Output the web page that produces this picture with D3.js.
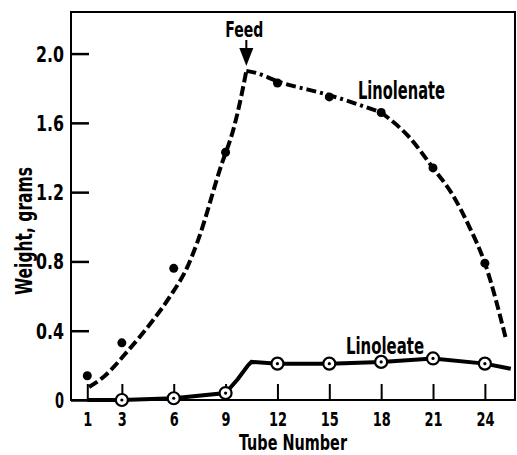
<!DOCTYPE html>
<html>
<head>
<meta charset="utf-8">
<script src="https://cdn.jsdelivr.net/npm/d3@7"></script>
<style>
  body { margin: 0; background: #fff; }
  text { font-family: "DejaVu Sans Condensed", "DejaVu Sans", sans-serif; font-weight: bold; fill: #000; }
</style>
</head>
<body>
<div class="main"></div>
<script>
var width = 517;
var height = 455;

// measured points
var pointTubes = [1, 3, 6, 9, 12, 15, 18, 21, 24];
var linolenateValues = [0.14, 0.33, 0.76, 1.43, 1.83, 1.75, 1.66, 1.34, 0.79];
var circleTubes = [3, 6, 9, 12, 15, 18, 21, 24];
var linoleateValues = [0, 0.01, 0.04, 0.21, 0.21, 0.22, 0.24, 0.21];

// drawn curves
var riseTubes = [1.1, 1.9, 3.4, 4.8, 5.8, 6.8, 7.4, 8.7, 9.5, 9.9, 10.2];
var riseValues = [0.075, 0.13, 0.29, 0.46, 0.60, 0.77, 0.92, 1.34, 1.58, 1.75, 1.90];
var topTubes = [10.2, 10.7, 12, 15, 18];
var topValues = [1.90, 1.89, 1.84, 1.76, 1.66];
var fallTubes = [18, 19.6, 21, 22.1, 23.1, 24, 25.2];
var fallValues = [1.66, 1.52, 1.34, 1.19, 1.0, 0.79, 0.36];
var lineTubes = [1, 3, 6, 9, 9.7, 10.3, 10.5, 12, 15, 18, 21, 24, 25.5];
var lineValues = [0, 0, 0.01, 0.04, 0.12, 0.20, 0.22, 0.21, 0.21, 0.22, 0.24, 0.21, 0.18];

var xTicks = [1, 3, 6, 9, 12, 15, 18, 21, 24];
var yTicks = [0, 0.4, 0.8, 1.2, 1.6, 2.0];
var yTickLabels = ["0", "0.4", "0.8", "1.2", "1.6", "2.0"];

// the original uses a narrow gothic face, so squeeze each text to its width
function labelWidth(s) {
    s = String(s);
    var dots = s.split(".").length - 1;
    return 9 * (s.length - dots) + 10 * dots;
}

var svg = d3.select(".main")
    .append("svg")
        .attr("width", width)
        .attr("height", height);

var xScale = d3.scaleLinear()
    .domain([0, 25.8])
    .range([70, 516]);

var yScale = d3.scaleLinear()
    .domain([0, 2.24])
    .range([400, 12]);

// frame
svg.append("rect")
    .attr("x", 71).attr("y", 12)
    .attr("width", 444).attr("height", 388)
    .attr("fill", "none")
    .attr("stroke", "#000")
    .attr("stroke-width", 2);

var xAxis = d3.axisBottom(xScale)
    .tickValues(xTicks)
    .tickSize(-16)
    .tickSizeOuter(0);

var yAxis = d3.axisLeft(yScale)
    .tickValues(yTicks)
    .tickFormat((d, i) => yTickLabels[i])
    .tickSize(-18)
    .tickSizeOuter(0);

var xAxisGroup = svg.append("g")
    .attr("transform", "translate(0, 400)")
    .call(xAxis);
xAxisGroup.select(".domain").remove();
xAxisGroup.selectAll("line").attr("stroke-width", 2);
xAxisGroup.selectAll("text")
    .attr("dy", null)
    .attr("y", 26)
    .attr("textLength", d => labelWidth(d))
    .attr("lengthAdjust", "spacingAndGlyphs")
    .style("font-size", "20px");

var yAxisGroup = svg.append("g")
    .attr("transform", "translate(71, 0)")
    .call(yAxis);
yAxisGroup.select(".domain").remove();
yAxisGroup.selectAll("line").attr("stroke-width", 2.5);
yAxisGroup.selectAll("text")
    .attr("x", -7)
    .attr("dy", "0.36em")
    .attr("textLength", (d, i) => labelWidth(yTickLabels[i]))
    .attr("lengthAdjust", "spacingAndGlyphs")
    .style("font-size", "21px");

// linoleate solid line
var line = d3.line()
    .x((d, i) => xScale(lineTubes[i]))
    .y(d => yScale(d));

svg.append("path")
    .datum(lineValues)
    .attr("d", line)
    .attr("fill", "none")
    .attr("stroke", "#000")
    .attr("stroke-width", 4);

// linolenate dashed curve
function curvePath(tubes, values, curve) {
    return d3.line()
        .x((d, i) => xScale(tubes[i]))
        .y(d => yScale(d))
        .curve(curve)(values);
}

svg.append("path")
    .attr("d", curvePath(riseTubes, riseValues, d3.curveMonotoneX))
    .attr("fill", "none")
    .attr("stroke", "#000")
    .attr("stroke-width", 4)
    .attr("stroke-dasharray", "10,4");

svg.append("path")
    .attr("d", curvePath(topTubes, topValues, d3.curveMonotoneX))
    .attr("fill", "none")
    .attr("stroke", "#000")
    .attr("stroke-width", 4)
    .attr("stroke-dasharray", "10,4,3,4");

svg.append("path")
    .attr("d", curvePath(fallTubes, fallValues, d3.curveMonotoneX))
    .attr("fill", "none")
    .attr("stroke", "#000")
    .attr("stroke-width", 4)
    .attr("stroke-dasharray", "10,4");

// filled dots
svg.selectAll(".dot")
    .data(linolenateValues)
    .enter()
    .append("circle")
    .attr("class", "dot")
    .attr("cx", (d, i) => xScale(pointTubes[i]))
    .attr("cy", d => yScale(d))
    .attr("r", 4.5)
    .attr("fill", "#000");

// open circles with centre dot
svg.selectAll(".ring")
    .data(linoleateValues)
    .enter()
    .append("circle")
    .attr("class", "ring")
    .attr("cx", (d, i) => xScale(circleTubes[i]))
    .attr("cy", d => yScale(d))
    .attr("r", 6)
    .attr("fill", "#fff")
    .attr("stroke", "#000")
    .attr("stroke-width", 2.2);

svg.selectAll(".ringdot")
    .data(linoleateValues)
    .enter()
    .append("circle")
    .attr("class", "ringdot")
    .attr("cx", (d, i) => xScale(circleTubes[i]))
    .attr("cy", d => yScale(d))
    .attr("r", 1.6)
    .attr("fill", "#000");

// feed arrow
var feedX = xScale(10.2);
svg.append("line")
    .attr("x1", feedX).attr("x2", feedX)
    .attr("y1", 40).attr("y2", 52)
    .attr("stroke", "#000")
    .attr("stroke-width", 2);
svg.append("path")
    .attr("d", d3.line()([[feedX - 7, 48], [feedX + 7, 48], [feedX, 66]]) + "Z")
    .attr("fill", "#000");

svg.append("text")
    .attr("x", feedX - 2).attr("y", 37)
    .attr("text-anchor", "middle")
    .attr("textLength", 38)
    .attr("lengthAdjust", "spacingAndGlyphs")
    .style("font-size", "21px")
    .text("Feed");

svg.append("text")
    .attr("x", 358).attr("y", 99)
    .attr("textLength", 87)
    .attr("lengthAdjust", "spacingAndGlyphs")
    .style("font-size", "24px")
    .text("Linolenate");

svg.append("text")
    .attr("x", 346).attr("y", 354)
    .attr("textLength", 78)
    .attr("lengthAdjust", "spacingAndGlyphs")
    .style("font-size", "23px")
    .text("Linoleate");

svg.append("text")
    .attr("x", 293).attr("y", 450)
    .attr("text-anchor", "middle")
    .attr("textLength", 108)
    .attr("lengthAdjust", "spacingAndGlyphs")
    .style("font-size", "21px")
    .text("Tube Number");

svg.append("text")
    .attr("transform", "translate(32, 231) rotate(-90)")
    .attr("text-anchor", "middle")
    .attr("textLength", 128)
    .attr("lengthAdjust", "spacingAndGlyphs")
    .style("font-size", "23px")
    .text("Weight, grams");
</script>
</body>
</html>
